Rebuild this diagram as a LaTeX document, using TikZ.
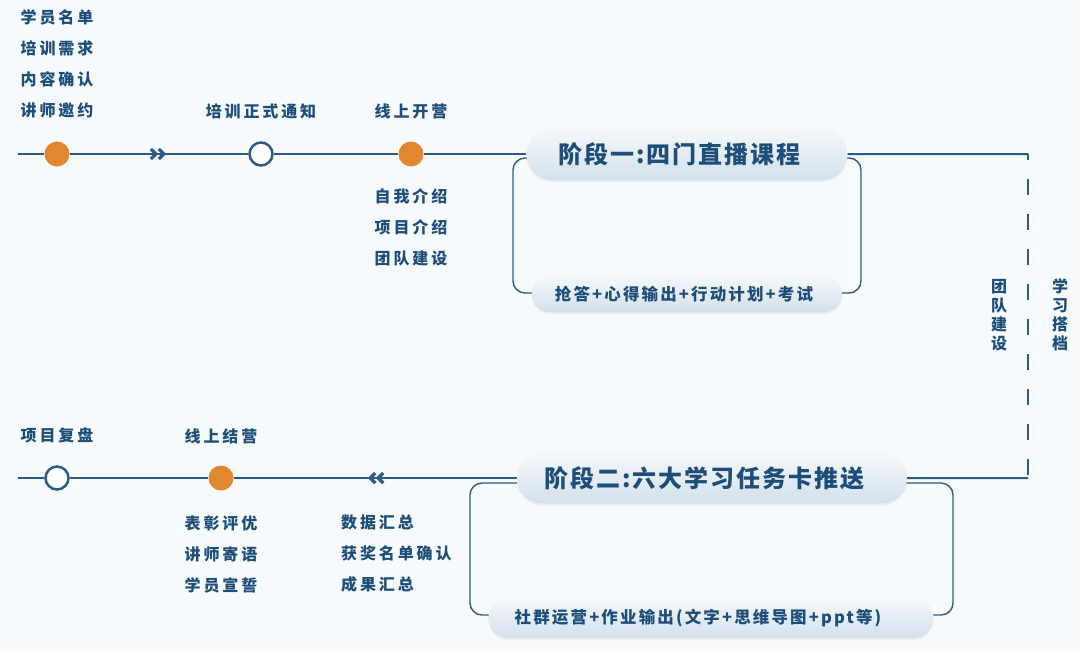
\documentclass[tikz,border=0pt]{standalone}
\usepackage{fontspec}
\setmainfont{Noto Sans CJK SC}[LetterSpace=18]
\usetikzlibrary{arrows.meta,positioning,shapes.misc,decorations.markings,shadows}
\definecolor{bg}{HTML}{F7FAFC}
\definecolor{navy}{HTML}{1D4E7A}
\definecolor{railblue}{HTML}{2B5B88}
\definecolor{amber}{HTML}{E0872F}
\definecolor{pilltop}{HTML}{F5F8FB}
\definecolor{pillbot}{HTML}{D3E0EA}
\tikzset{
  rail/.style={draw=railblue, line width=2pt},
  loopline/.style={draw=railblue, line width=1.4pt, rounded corners=12pt},
  dot/.style={circle, fill=amber, minimum size=25pt, inner sep=0pt},
  hollow/.style={circle, draw=railblue, line width=2.5pt, fill=white,
    minimum size=23pt, inner sep=0pt},
  lbl/.style={font=\bfseries\fontsize{16}{31}\selectfont, text=navy,
    inner sep=0pt, align=center},
  vlbl/.style={lbl, font=\bfseries\fontsize{16}{19}\selectfont},
  stage/.style={rounded rectangle, top color=pilltop, bottom color=pillbot,
    text=navy, inner sep=0pt,
    font=\bfseries\fontsize{24}{28}\selectfont\addfontfeatures{LetterSpace=8},
    drop shadow={shadow xshift=0pt, shadow yshift=-2pt, opacity=.10}},
  task/.style={stage,
    font=\bfseries\fontsize{16.5}{20}\selectfont\addfontfeatures{LetterSpace=13}},
  chev/.style={postaction={decorate, decoration={markings,
    mark=at position .5 with {\draw[railblue, line width=3.2pt, line join=miter]
      (-8pt,-5pt) -- (-3pt,0pt) -- (-8pt,5pt) (0pt,-5pt) -- (5pt,0pt) -- (0pt,5pt);}}}}
}
\begin{document}
\begin{tikzpicture}[x=1pt,y=-1pt]
  \fill[bg] (0,0) rectangle (1080,649);
  \useasboundingbox (0,0) rectangle (1080,649);

  % loops behind the stages
  \draw[loopline] (513,158) rectangle (861,293);
  \draw[loopline] (470,483) rectangle (953,615);

  % top row
  \coordinate (s1) at (18,154);
  \node[dot] (d1) at (57,154) {};
  \node[hollow] (d2) at (261,154) {};
  \node[dot] (d3) at (411,154) {};
  \node[stage, minimum width=321pt, minimum height=52pt] (st1) at (687,154)
    {阶段一:四门直播课程\kern15pt};
  \node[task, minimum width=310pt, minimum height=36pt] (tk1) at (687,294)
    {抢答+心得输出+行动计划+考试\kern6pt};

  % bottom row
  \coordinate (e1) at (18,478);
  \node[hollow] (d5) at (57,478) {};
  \node[dot] (d6) at (221,478) {};
  \node[stage, minimum width=390pt, minimum height=51pt] (st2) at (712,478)
    {阶段二:六大学习任务卡推送\kern15pt};
  \node[task, minimum width=445pt, minimum height=40pt] (tk2) at (711,618)
    {社群运营+作业输出(文字+思维导图+ppt等)\kern26pt};

  % right turn
  \coordinate (c1) at (1028,154);
  \coordinate (c2) at (1028,478);

  \draw[rail] (s1) -- (d1);
  \draw[rail,chev] (d1) -- (d2);
  \draw[rail] (d2) -- (d3);
  \draw[rail] (d3) -- (st1);
  \draw[rail] (st1) -- (c1);
  \draw[rail,line width=1.6pt,dash pattern=on 16pt off 19pt,dash phase=10pt] (c1) -- (c2);
  \draw[rail] (c2) -- (st2);
  \draw[rail,chev] (st2) -- (d6);
  \draw[rail] (d6) -- (d5);
  \draw[rail] (d5) -- (e1);

  % labels
  \node[lbl,above=23pt of d1] (l1) {学员名单\\培训需求\\内容确认\\讲师邀约};
  \node[lbl,above=22.5pt of d2] (l2) {培训正式通知};
  \node[lbl,above=22.5pt of d3] (l3) {线上开营};
  \node[lbl,below=21.5pt of d3] (l4) {自我介绍\\项目介绍\\团队建设};
  \node[lbl,above=21.5pt of d5] (l5) {项目复盘};
  \node[lbl,above=21.5pt of d6] (l6) {线上结营};
  \node[lbl,below=24.5pt of d6] (l7) {表彰评优\\讲师寄语\\学员宣誓};
  \node[lbl,align=left,anchor=north west] (l8) at (341,515)
    {数据汇总\\获奖名单确认\\成果汇总};
  \node[vlbl] (v1) at (999,315) {团\\队\\建\\设};
  \node[vlbl] (v2) at (1060,315) {学\\习\\搭\\档};
\end{tikzpicture}
\end{document}
